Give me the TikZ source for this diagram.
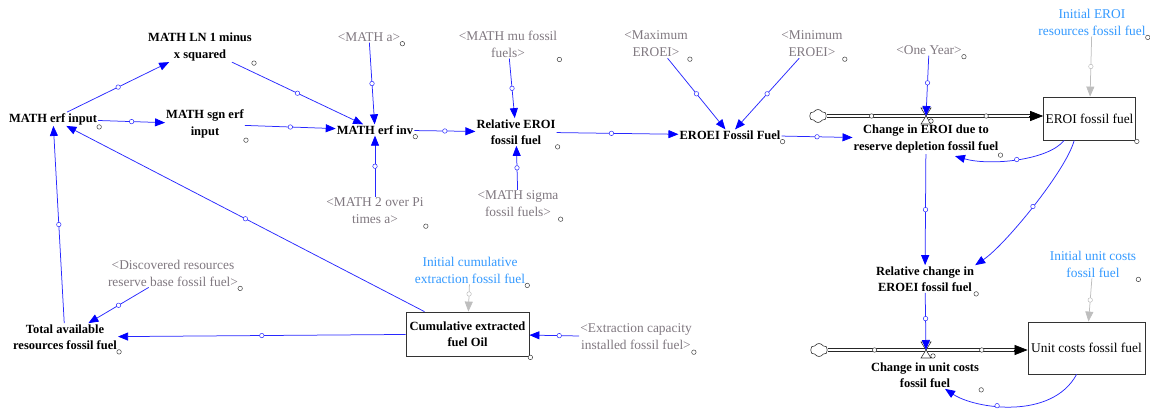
\documentclass[tikz,border=0pt]{standalone}
\usepackage{fontspec}
\setmainfont{Liberation Serif}
\usetikzlibrary{arrows.meta,calc,shapes.symbols}
\definecolor{linkblue}{RGB}{40,40,255}
\definecolor{tipblue}{RGB}{0,0,255}
\definecolor{shadowgray}{RGB}{128,120,128}
\definecolor{initblue}{RGB}{51,153,255}
\definecolor{initgray}{RGB}{190,190,190}
\begin{document}
\begin{tikzpicture}[x=1pt,y=-1pt,
  varnode/.style={align=center,inner sep=1pt,font=\fontsize{12.5}{16.5}\selectfont\bfseries},
  ghostvar/.style={align=center,inner sep=1pt,text=shadowgray,font=\fontsize{13.4}{17}\selectfont},
  initvar/.style={align=center,inner sep=1pt,text=initblue,font=\fontsize{13.4}{17}\selectfont},
  stockbox/.style={draw=black!80,line width=0.8pt,align=center,inner sep=2pt,font=\fontsize{13.4}{17}\selectfont},
  link/.style={draw=linkblue,line width=0.75pt,-{Triangle[length=10pt,width=8pt,color=tipblue]}},
  initlink/.style={draw=initgray,line width=0.75pt,-{Triangle[length=10pt,width=8pt,color=initgray]}},
  hdl/.style={circle,draw=linkblue,fill=white,line width=0.5pt,inner sep=0pt,minimum size=4.5pt},
  ghdl/.style={hdl,draw=initgray},
  phdl/.style={hdl,draw=black!80},
  lblhdl/.style={circle,draw=black!75,fill=white,line width=0.5pt,inner sep=0pt,minimum size=4.5pt},
  pipe/.style={draw=black!85,double=white,double distance=2.4pt,line width=0.7pt},
  pipetip/.style={draw=black,line width=0.7pt,-{Triangle[length=13pt,width=10pt,color=black]}},
  cloudsrc/.style={cloud,cloud puffs=6,cloud puff arc=120,aspect=1.3,draw=black!80,fill=white,line width=0.6pt,minimum width=17pt,minimum height=13pt,inner sep=0pt},
  valvebody/.style={draw=black!80,fill=white,line width=0.6pt}
]
\useasboundingbox (0,0) rectangle (1150,412);

% --- auxiliary variables
\node[varnode] (erfin)  at (53,119)  {MATH erf input};
\node[varnode] (ln)     at (200,47)  {MATH LN 1 minus\\x squared};
\node[varnode] (sgn)    at (205,124) {MATH sgn erf\\input};
\node[varnode] (erfinv) at (375,130) {MATH erf inv};
\node[varnode] (rel)    at (516,132) {Relative EROI\\fossil fuel};
\node[varnode] (eroei)  at (730,135) {EROEI Fossil Fuel};
\node[varnode] (chg)    at (926,139) {Change in EROI due to\\reserve depletion fossil fuel};
\node[varnode] (relchg) at (925,279) {Relative change in\\EROEI fossil fuel};
\node[varnode] (chgu)   at (925,375) {Change in unit costs\\fossil fuel};
\node[varnode] (total)  at (65,337)  {Total available\\resources fossil fuel};

% --- shadow variables
\node[ghostvar] (a)     at (369,37)  {<MATH a>};
\node[ghostvar] (twopi) at (375,211) {<MATH 2 over Pi\\times a>};
\node[ghostvar] (mu)    at (508,44)  {<MATH mu fossil\\fuels>};
\node[ghostvar] (sigma) at (518,204) {<MATH sigma\\fossil fuels>};
\node[ghostvar] (maxe)  at (656,44)  {<Maximum\\EROEI>};
\node[ghostvar] (mine)  at (812,44)  {<Minimum\\EROEI>};
\node[ghostvar] (year)  at (929,50)  {<One Year>};
\node[ghostvar] (disc)  at (173,273) {<Discovered resources\\reserve base fossil fuel>};
\node[ghostvar] (extr)  at (636,337) {<Extraction capacity\\installed fossil fuel>};

% --- initial values
\node[initvar] (inieroi) at (1092,22)  {Initial EROI\\resources fossil fuel};
\node[initvar] (iniunit) at (1093,264) {Initial unit costs\\fossil fuel};
\node[initvar] (inicum)  at (470,270)  {Initial cumulative\\extraction fossil fuel};

% --- stocks
\node[stockbox,minimum width=85pt,minimum height=43pt] (eroibox) at (1089.5,118.5) {EROI fossil fuel};
\node[stockbox,minimum width=117pt,minimum height=52pt] (unitbox) at (1086.5,348) {Unit costs fossil fuel};
\node[stockbox,minimum width=123pt,minimum height=44pt,font=\fontsize{12.5}{16.5}\selectfont\bfseries] (cum) at (467.5,334) {Cumulative extracted\\fuel Oil};

% --- flows: clouds, pipes, valves
\node[cloudsrc] (cl1) at (818,116) {};
\node[cloudsrc] (cl2) at (819,350) {};
\coordinate (v1) at (926,116);
\coordinate (v2) at (926,350);

\draw[pipe] (cl1.east) -- ($(cl1.east -| eroibox.west)+(-12,0)$)
  node[phdl,pos=0.22]{} node[phdl,pos=0.78]{};
\draw[pipetip] ($(cl1.east -| eroibox.west)+(-14,0)$) -- (cl1.east -| eroibox.west);
\draw[pipe] (cl2.east) -- ($(cl2.east -| unitbox.west)+(-12,0)$)
  node[phdl,pos=0.25]{} node[phdl,pos=0.82]{};
\draw[pipetip] ($(cl2.east -| unitbox.west)+(-14,0)$) -- (cl2.east -| unitbox.west);

\draw[valvebody] ($(v1)+(-5,-8)$) -- ($(v1)+(5,-8)$) -- ($(v1)+(-5,8)$) -- ($(v1)+(5,8)$) -- cycle;
\draw[valvebody] ($(v2)+(-5,-8)$) -- ($(v2)+(5,-8)$) -- ($(v2)+(-5,8)$) -- ($(v2)+(5,8)$) -- cycle;
\node[phdl] at ($(v1)+(5,5)$) {};
\node[phdl] at ($(v2)+(7,6)$) {};

% --- causal links
\draw[link] (erfin) -- node[hdl]{} (ln);
\draw[link] (erfin) -- node[hdl]{} (sgn);
\draw[link] (ln) -- node[hdl]{} (erfinv);
\draw[link] (sgn) -- node[hdl]{} (erfinv);
\draw[link] (a) -- node[hdl]{} (erfinv);
\draw[link] (twopi) -- node[hdl]{} (erfinv);
\draw[link] (erfinv) -- node[hdl]{} (rel);
\draw[link] (mu) -- node[hdl]{} (rel);
\draw[link] (sigma) -- node[hdl]{} (rel);
\draw[link] (rel) -- node[hdl,pos=0.45]{} (eroei);
\draw[link] (maxe) -- node[hdl]{} (eroei);
\draw[link] (mine) -- node[hdl]{} (eroei);
\draw[link] (eroei) -- node[hdl]{} (chg);
\draw[link] (year) -- node[hdl,pos=0.45]{} (v1);
\draw[link] (chg) -- node[hdl]{} (relchg);
\draw[link] (relchg) -- node[hdl,pos=0.45]{} (v2);
\draw[link] (total) -- node[hdl]{} (erfin);
\draw[link] (cum) -- node[hdl]{} (erfin);
\draw[link] (disc) -- node[hdl]{} (total);
\draw[link] (cum) -- node[hdl]{} (total);
\draw[link] (extr) -- node[hdl,pos=0.4]{} (cum);

\draw[link] ($(eroibox.south west)+(21,0)$) .. controls +(-16,20) and +(35,10) ..
  node[hdl,pos=0.5]{} ($(chg.south)+(29,2)$);
\draw[link] ($(eroibox.south west)+(31,0)$) .. controls +(-8,30) and +(30,-20) ..
  node[hdl,pos=0.5]{} (relchg.north east);
\draw[link] ($(unitbox.south west)+(49,0)$) .. controls +(-25,46) and +(30,20) ..
  node[hdl,pos=0.6]{} ($(chgu.south)+(20,0)$);

% --- initial value links
\draw[initlink] (inieroi) -- node[ghdl]{} (eroibox);
\draw[initlink] (iniunit) -- node[ghdl]{} (unitbox);
\draw[initlink] (inicum) -- node[ghdl,pos=0.35]{} (cum);

% --- label handles
\foreach \n in {erfin,ln,sgn,erfinv,rel,eroei,chg,relchg,chgu,total,a,twopi,mu,sigma,maxe,mine,year,disc,extr,inieroi,iniunit,inicum,eroibox,cum}
  \node[lblhdl] at ($(\n.south east)+(1,1)$) {};
\end{tikzpicture}
\end{document}
